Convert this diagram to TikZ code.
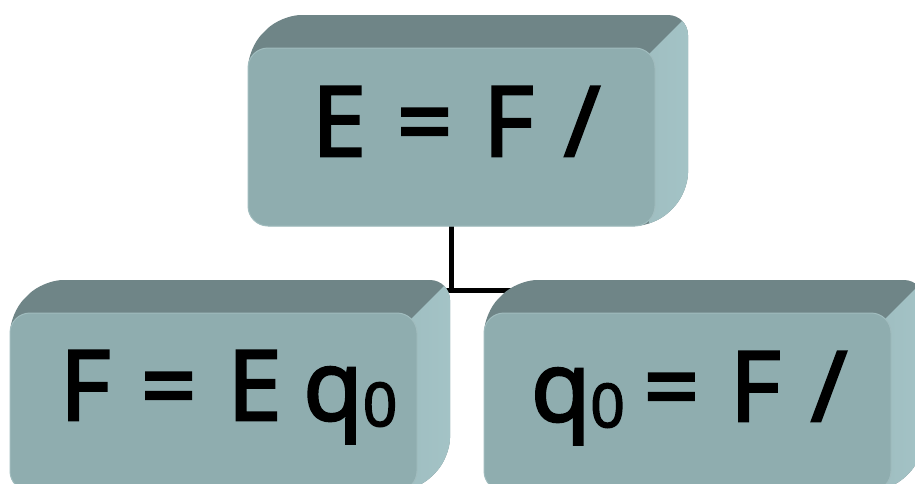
\documentclass[tikz,border=0pt]{standalone}
\usepackage{fontspec}
\setmainfont{Open Sans}
\newfontfamily\lblfont{Open Sans}[FakeBold=3]
\pgfdeclarelayer{background}
\pgfsetlayers{background,main}
\definecolor{boxfront}{RGB}{143,173,175}
\definecolor{boxtop}{RGB}{111,133,135}
\definecolor{boxside}{RGB}{165,197,200}
\definecolor{boxedge}{RGB}{160,188,190}
\tikzset{
  frontbox/.style={rectangle, rounded corners=20pt, minimum width=407pt, minimum height=178pt,
    inner sep=0pt, outer sep=0pt, fill=boxfront, draw=boxedge, line width=1pt},
  lbl/.style={inner sep=0pt, outer sep=0pt, anchor=base west, font=\fontsize{97}{100}\lblfont},
  conn/.style={line width=5pt, draw=black}
}
\newcommand\subz{{\fontsize{60}{60}\selectfont\raisebox{-6pt}{0}}}
\newcommand\gap{\hspace{31pt}}
\newcommand\cubebox[3]{%
  \begin{scope}[shift={(#2,#3)}]
    \fill[boxtop, rounded corners=20pt] (0,178) -- (0,0) -- (33,-33) -- (440,-33) -- (440,145) -- (407,178) -- cycle;
    \begin{scope}
      \clip[rounded corners=20pt] (0,178) -- (0,0) -- (33,-33) -- (440,-33) -- (440,145) -- (407,178) -- cycle;
      \shade[left color=boxside!90!boxtop, right color=boxside] (401,6) -- (434,-27) -- (460,-27) -- (460,200) -- (401,200) -- cycle;
    \end{scope}
    \node[frontbox] (#1) at (203.5,89) {};
  \end{scope}
}
\begin{document}
\begin{tikzpicture}[x=1pt,y=-1pt]
  \useasboundingbox (0,0) rectangle (915,483);
  \cubebox{top}{248}{48}
  \cubebox{lb}{10}{313}
  \cubebox{rb}{484}{313}
  \coordinate (junc) at (top.south |- 0,290);
  \begin{pgfonlayer}{background}
    \draw[conn] (top.south) -- (junc);
    \draw[conn] (lb.center |- junc) -- (rb.center |- junc);
  \end{pgfonlayer}
  \node[lbl] (ttop) at (312,156) {E\gap=\gap F\gap/};
  \node[lbl] (tlb) at (60,420) {F\gap=\gap E\hspace{22pt}q\subz};
  \node[lbl] (trb) at (531,421) {q\subz\hspace{19pt}=\gap F\gap/};
\end{tikzpicture}
\end{document}
